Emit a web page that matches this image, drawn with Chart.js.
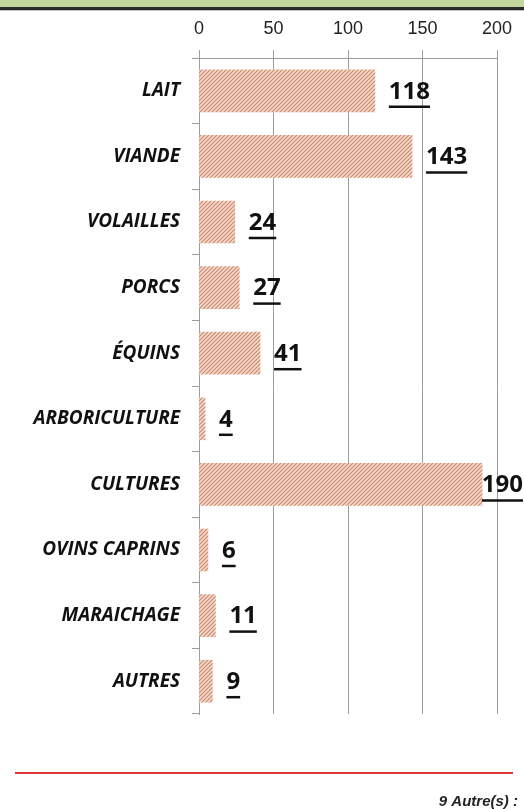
<!DOCTYPE html>
<html>
<head>
<meta charset="utf-8">
<script src="https://cdn.jsdelivr.net/npm/chart.js@4"></script>
<style>
  html, body { margin: 0; padding: 0; background: #fff; }
  #wrap { width: 524px; height: 809px; position: relative; }
</style>
</head>
<body>
<div id="wrap"><canvas id="chart" width="524" height="809"></canvas></div>
<script>
const categories = ['LAIT', 'VIANDE', 'VOLAILLES', 'PORCS', 'ÉQUINS', 'ARBORICULTURE', 'CULTURES', 'OVINS CAPRINS', 'MARAICHAGE', 'AUTRES']
const counts = [118, 143, 24, 27, 41, 4, 190, 6, 11, 9]
const xTicks = [0, 50, 100, 150, 200]
const footnote = '9 Autre(s) :'

// hatched fill like the original
function hatch() {
  const c = document.createElement('canvas')
  c.width = 4; c.height = 4
  const g = c.getContext('2d')
  g.fillStyle = '#f6dacb'
  g.fillRect(0, 0, 4, 4)
  g.strokeStyle = '#cc8a70'
  g.lineWidth = 1.2
  g.beginPath()
  g.moveTo(-1, 5); g.lineTo(5, -1)
  g.moveTo(-1, 1); g.lineTo(1, -1)
  g.moveTo(3, 5); g.lineTo(5, 3)
  g.stroke()
  return g.createPattern(c, 'repeat')
}

const decor = {
  id: 'decor',
  beforeDraw(chart) {
    const ctx = chart.ctx
    ctx.save()
    ctx.fillStyle = '#fff'
    ctx.fillRect(0, 0, chart.width, chart.height)
    ctx.fillStyle = '#c3d69b'
    ctx.fillRect(0, 0, chart.width, 7)
    ctx.fillStyle = '#2a2a2a'
    ctx.fillRect(0, 7, chart.width, 3)
    ctx.fillStyle = '#c4c4c4'
    ctx.fillRect(0, 10, chart.width, 1)
    ctx.restore()
  },
  afterDraw(chart) {
    const ctx = chart.ctx
    ctx.save()
    ctx.strokeStyle = '#e0313c'
    ctx.lineWidth = 2
    ctx.beginPath()
    ctx.moveTo(15, 773); ctx.lineTo(513, 773)
    ctx.stroke()
    ctx.fillStyle = '#222'
    ctx.font = 'italic bold 15px "Liberation Sans Narrow", "Liberation Sans", sans-serif'
    ctx.textAlign = 'right'
    ctx.textBaseline = 'alphabetic'
    ctx.fillText(footnote, 518, 806)
    ctx.restore()
  }
}

const valueLabels = {
  id: 'valueLabels',
  afterDatasetsDraw(chart) {
    const ctx = chart.ctx
    const meta = chart.getDatasetMeta(0)
    ctx.save()
    ctx.font = 'bold 24px "Open Sans", sans-serif'
    ctx.fillStyle = '#111'
    ctx.strokeStyle = '#111'
    ctx.textBaseline = 'middle'
    ctx.textAlign = 'left'
    meta.data.forEach((bar, i) => {
      const txt = String(counts[i])
      const w = ctx.measureText(txt).width
      let x = bar.x + 14
      if (x + w > chart.width - 1) x = chart.width - 1 - w
      const y = bar.y + 1
      ctx.fillText(txt, x, y)
      ctx.lineWidth = 2.5
      ctx.beginPath()
      ctx.moveTo(x, y + 15); ctx.lineTo(x + w, y + 15)
      ctx.stroke()
    })
    ctx.restore()
  }
}

const chart = new Chart(document.getElementById('chart').getContext('2d'), {
  type: 'bar',
  data: {
    labels: categories,
    datasets: [{
      data: counts,
      backgroundColor: hatch(),
      borderWidth: 0,
      barThickness: 42
    }]
  },
  options: {
    indexAxis: 'y',
    responsive: false,
    animation: false,
    layout: { padding: { left: 0, right: 27, top: 0, bottom: 95 } },
    plugins: { legend: { display: false }, tooltip: { enabled: false } },
    scales: {
      x: {
        position: 'top',
        min: 0,
        max: 200,
        afterBuildTicks(scale) { scale.ticks = xTicks.map((v) => ({ value: v })) },
        afterFit(scale) { scale.height = 58 },
        grid: { color: '#9c9c9c', lineWidth: 1, tickLength: 8, drawTicks: true },
        border: { display: true, color: '#9c9c9c' },
        ticks: {
          color: '#222',
          padding: 10,
          font: { family: '"Liberation Sans", Arial, sans-serif', size: 18 }
        }
      },
      y: {
        afterFit(scale) { scale.width = 199 },
        grid: { drawOnChartArea: false, color: '#9c9c9c', tickLength: 7, offset: true },
        border: { display: true, color: '#9c9c9c' },
        ticks: {
          color: '#111',
          padding: 12,
          font: { family: '"Open Sans", sans-serif', size: 19, style: 'italic', weight: 'bold' }
        }
      }
    }
  },
  plugins: [decor, valueLabels]
})
</script>
</body>
</html>
